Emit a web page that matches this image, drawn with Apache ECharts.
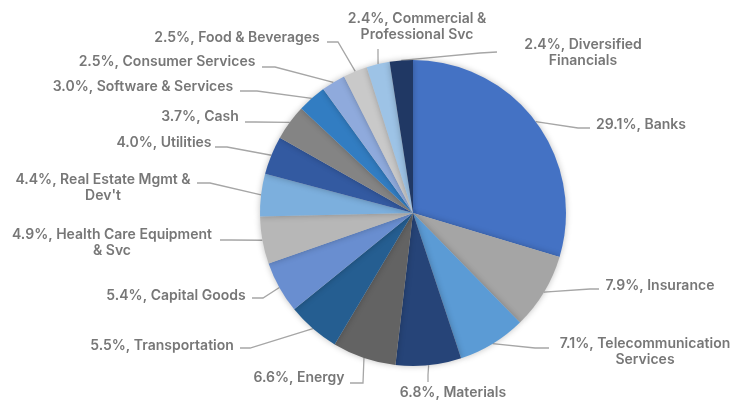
<!DOCTYPE html>
<html><head><meta charset="utf-8">
<script src="https://cdn.jsdelivr.net/npm/echarts@6/dist/echarts.min.js"></script>
<style>html,body{margin:0;padding:0;background:#fff}#c{width:737px;height:401px}</style>
</head><body><div id="c"></div>
<script>
const categories = ["Banks","Insurance","Telecommunication Services","Materials","Energy","Transportation","Capital Goods","Health Care Equipment & Svc","Real Estate Mgmt & Dev't","Utilities","Cash","Software & Services","Consumer Services","Food & Beverages","Commercial & Professional Svc","Diversified Financials"];
const values = [29.1,7.9,7.1,6.8,6.6,5.5,5.4,4.9,4.4,4.0,3.7,3.0,2.5,2.5,2.4,2.4];
const colors = ["#4472C4","#A5A5A5","#5B9BD5","#264478","#636363","#255E91","#698ED0","#B7B7B7","#7CAFDD","#335AA1","#848484","#327DC2","#8FAADC","#C9C9C9","#9DC3E6","#203864"];

// label placement (text block centre, leader elbow and end), words on first line
const labelPlace = [
  {x:641,y:125,elbow:[578,128],end:[590,128]},
  {x:660,y:286,elbow:[590,289],end:[599,289]},
  {x:645,y:352,wrap:2,elbow:[535,348],end:[549,348]},
  {x:453,y:393,elbow:[428,375],end:[428,382]},
  {x:299,y:378,elbow:[363,383],end:[350,383]},
  {x:162,y:346,elbow:[250,348],end:[240,348]},
  {x:176,y:296,elbow:[263,298],end:[252,298]},
  {x:112,y:243,wrap:4,elbow:[230,240],end:[220,240]},
  {x:103,y:188,wrap:5,elbow:[210,183],end:[197,183]},
  {x:164,y:143,elbow:[227,147],end:[215,147]},
  {x:200,y:117,elbow:[255,122],end:[245,122]},
  {x:143,y:87,elbow:[257,91],end:[240,91]},
  {x:167,y:62,elbow:[275,67],end:[262,67]},
  {x:237,y:38,elbow:[338,42],end:[327,42]},
  {x:417,y:27,wrap:3,elbow:[378,55],end:[378,49]},
  {x:583,y:53,wrap:2,elbow:[480,53],end:[497,52]}
];

function labelText(p){
  const words = (p.value.toFixed(1)+'%, '+p.name).split(' ');
  const w = labelPlace[p.dataIndex].wrap;
  if(!w) return words.join(' ');
  return words.slice(0,w).join(' ')+'\n'+words.slice(w).join(' ');
}

const chart = echarts.init(document.getElementById('c'));
chart.setOption({
  animation:false,
  series:[{
    type:'pie',
    center:[413,213],
    radius:[0,153],
    startAngle:90,
    clockwise:true,
    data: categories.map((c,i)=>({name:c,value:values[i],itemStyle:{color:colors[i]}})),
    itemStyle:{borderWidth:0,shadowBlur:6,shadowColor:'rgba(0,0,0,0.25)'},
    label:{formatter:labelText,fontFamily:'Inter',fontWeight:600,fontSize:14,lineHeight:16,color:'#777777'},
    labelLine:{length:15,length2:10,lineStyle:{color:'#A6A6A6',width:1.3}},
    labelLayout:function(params){
      const L = labelPlace[params.dataIndex];
      const start = params.labelLinePoints ? params.labelLinePoints[0] : L.elbow;
      return {x:L.x,y:L.y,align:'center',verticalAlign:'middle',
        labelLinePoints:[start,L.elbow,L.end]};
    }
  }]
});
</script></body></html>
